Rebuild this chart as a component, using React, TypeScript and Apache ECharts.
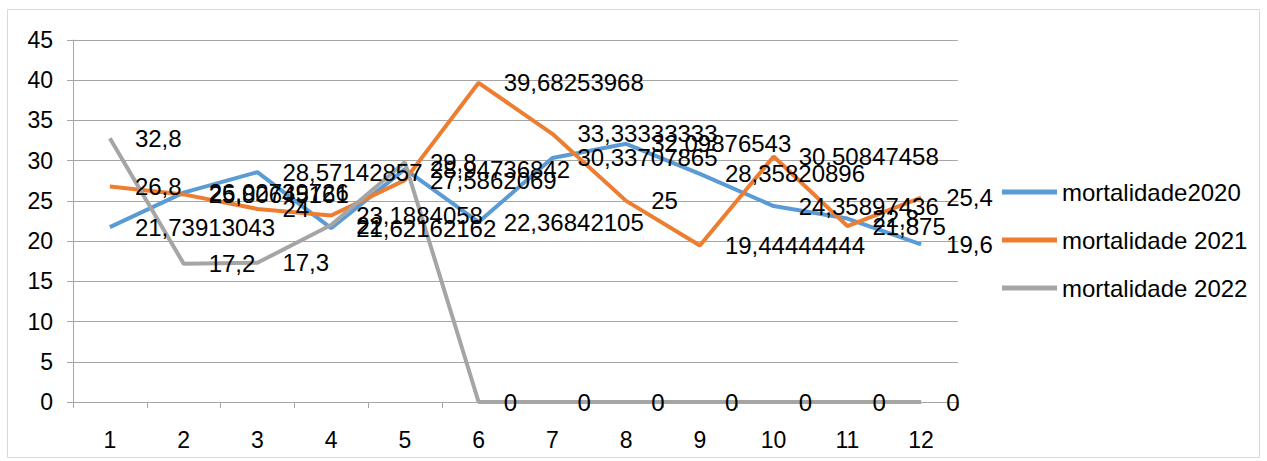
import React, { useEffect, useRef } from "react";
import * as echarts from "echarts";

const categories = ["1", "2", "3", "4", "5", "6", "7", "8", "9", "10", "11", "12"];
const mortalidade2020 = [21.73913043, 26.02739726, 28.57142857, 21.62162162, 28.94736842, 22.36842105, 30.33707865, 32.09876543, 28.35820896, 24.35897436, 22.8, 19.6];
const mortalidade2021 = [26.8, 25.80645161, 24, 23.1884058, 27.5862069, 39.68253968, 33.33333333, 25, 19.44444444, 30.50847458, 21.875, 25.4];
const mortalidade2022 = [32.8, 17.2, 17.3, 22, 29.8, 0, 0, 0, 0, 0, 0, 0];
const seriesNames = ["mortalidade2020", "mortalidade 2021", "mortalidade 2022"];
const colors = ["#5b9bd5", "#ed7d31", "#a5a5a5"];

const FONT = "Liberation Sans";

function fmt(v: number): string {
  return String(v).replace(".", ",");
}

export default function App() {
  const ref = useRef<HTMLDivElement>(null);
  useEffect(() => {
    document.body.style.margin = "0";
    const chart = echarts.init(ref.current!, null, { renderer: "svg" });
    const mk = (name: string, data: number[], color: string) => ({
      name,
      type: "line",
      data,
      symbol: "circle",
      symbolSize: 0,
      showSymbol: true,
      lineStyle: { color, width: 4 },
      itemStyle: { color },
      labelLayout: { hideOverlap: false },
      label: {
        show: true,
        position: "right",
        distance: 25,
        color: "#000",
        fontFamily: FONT,
        fontSize: 24,
        formatter: (p: any) => fmt(p.value),
      },
    });
    chart.setOption({
      animation: false,
      graphic: [
        {
          type: "rect",
          shape: { x: 7.5, y: 9.5, width: 1252, height: 448 },
          style: { fill: "none", stroke: "#d9d9d9", lineWidth: 1 },
          silent: true,
        },
      ],
      grid: { left: 73, right: 309, top: 40, bottom: 59 },
      legend: {
        orient: "vertical",
        left: 997,
        top: 175,
        itemWidth: 55,
        itemHeight: 5,
        itemGap: 24,
        icon: "rect",
        textStyle: { fontFamily: FONT, fontSize: 24, color: "#000", padding: [0, 0, 0, 0] },
        data: seriesNames,
      },
      xAxis: {
        type: "category",
        data: categories,
        boundaryGap: true,
        axisLine: { show: true, lineStyle: { color: "#a6a6a6", width: 1 } },
        axisTick: { show: true, length: 6, inside: false, lineStyle: { color: "#a6a6a6" } },
        axisLabel: { margin: 26, color: "#000", fontFamily: FONT, fontSize: 23 },
      },
      yAxis: {
        type: "value",
        min: 0,
        max: 45,
        interval: 5,
        axisLine: { show: true, lineStyle: { color: "#a6a6a6", width: 1 } },
        axisTick: { show: true, length: 6, lineStyle: { color: "#a6a6a6" } },
        splitLine: { show: true, lineStyle: { color: "#a6a6a6", width: 1 } },
        axisLabel: { margin: 20, color: "#000", fontFamily: FONT, fontSize: 23 },
      },
      series: [
        mk(seriesNames[0], mortalidade2020, colors[0]),
        mk(seriesNames[1], mortalidade2021, colors[1]),
        mk(seriesNames[2], mortalidade2022, colors[2]),
      ],
    });
    return () => chart.dispose();
  }, []);
  return <div ref={ref} style={{ width: 1267, height: 461 }} />;
}
